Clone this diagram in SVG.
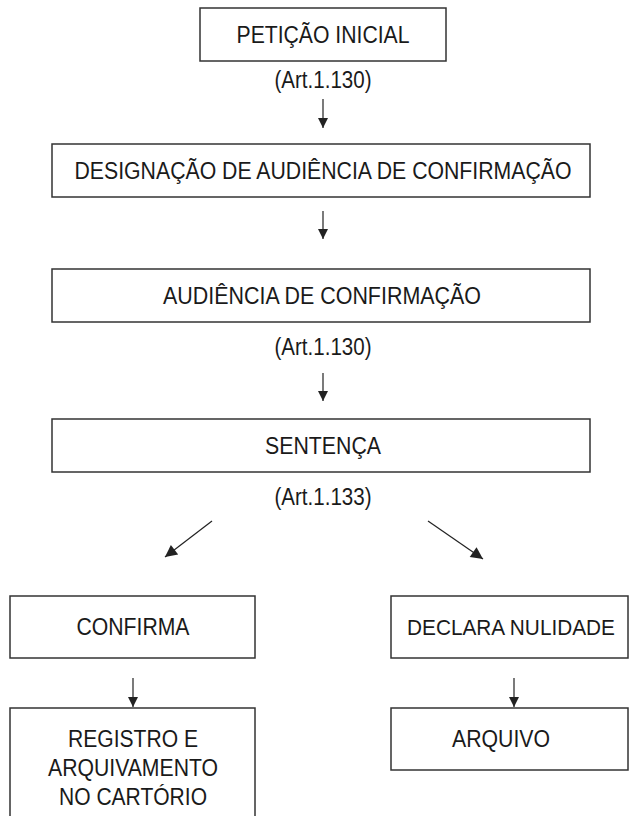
<svg xmlns="http://www.w3.org/2000/svg" width="629" height="816" viewBox="0 0 629 816">
<style>
.box{fill:#fff;stroke:#333;stroke-width:1.5}
.t{font-family:"Liberation Sans",Arial,sans-serif;font-size:23.5px;fill:#1a1a1a;text-anchor:middle}
.c{stroke:#222;stroke-width:1.2;fill:none}
</style>
<defs>
<marker id="ah" viewBox="0 0 10 10" refX="10" refY="5" markerWidth="11" markerHeight="10" markerUnits="userSpaceOnUse" orient="auto">
<path d="M0,0 L10,5 L0,10 Z" fill="#222"/>
</marker>
<marker id="ahd" viewBox="0 0 10 10" refX="10" refY="5" markerWidth="14" markerHeight="12" markerUnits="userSpaceOnUse" orient="auto">
<path d="M0,0 L10,5 L0,10 Z" fill="#222"/>
</marker>
</defs>
<rect width="629" height="816" fill="#fff"/>
<g id="connectors">
<line class="c" x1="323" y1="99" x2="323" y2="128" marker-end="url(#ah)"/>
<line class="c" x1="323" y1="211" x2="323" y2="239" marker-end="url(#ah)"/>
<line class="c" x1="323" y1="373" x2="323" y2="401" marker-end="url(#ah)"/>
<line class="c" x1="212" y1="521" x2="165" y2="557" marker-end="url(#ahd)"/>
<line class="c" x1="428" y1="521" x2="483" y2="559" marker-end="url(#ahd)"/>
<line class="c" x1="133" y1="678" x2="133" y2="707" marker-end="url(#ah)"/>
<line class="c" x1="514" y1="678" x2="514" y2="707" marker-end="url(#ah)"/>
</g>
<g id="peticao">
<rect class="box" x="200" y="8" width="246" height="53"/>
<text class="t" x="323" y="43" textLength="173" lengthAdjust="spacingAndGlyphs">PETIÇÃO INICIAL</text>
</g>
<g id="art1">
<text class="t" x="323" y="88" textLength="97" lengthAdjust="spacingAndGlyphs">(Art.1.130)</text>
</g>
<g id="designacao">
<rect class="box" x="52" y="144" width="538" height="53"/>
<text class="t" x="323" y="179" textLength="497" lengthAdjust="spacingAndGlyphs">DESIGNAÇÃO DE AUDIÊNCIA DE CONFIRMAÇÃO</text>
</g>
<g id="audiencia">
<rect class="box" x="52" y="269" width="538" height="53"/>
<text class="t" x="322" y="304" textLength="318" lengthAdjust="spacingAndGlyphs">AUDIÊNCIA DE CONFIRMAÇÃO</text>
</g>
<g id="art2">
<text class="t" x="323" y="355" textLength="97" lengthAdjust="spacingAndGlyphs">(Art.1.130)</text>
</g>
<g id="sentenca">
<rect class="box" x="52" y="419" width="538" height="53"/>
<text class="t" x="323" y="454" textLength="116" lengthAdjust="spacingAndGlyphs">SENTENÇA</text>
</g>
<g id="art3">
<text class="t" x="323" y="505" textLength="97" lengthAdjust="spacingAndGlyphs">(Art.1.133)</text>
</g>
<g id="confirma">
<rect class="box" x="10" y="596" width="245" height="62"/>
<text class="t" x="133" y="635" textLength="113" lengthAdjust="spacingAndGlyphs">CONFIRMA</text>
</g>
<g id="declara">
<rect class="box" x="391" y="596" width="237" height="62"/>
<text class="t" x="511" y="635" style="font-size:22px" textLength="208" lengthAdjust="spacingAndGlyphs">DECLARA NULIDADE</text>
</g>
<g id="registro">
<rect class="box" x="10" y="708" width="245" height="130"/>
<text class="t" x="133" y="747" textLength="130" lengthAdjust="spacingAndGlyphs">REGISTRO E</text>
<text class="t" x="133" y="776" textLength="170" lengthAdjust="spacingAndGlyphs">ARQUIVAMENTO</text>
<text class="t" x="133" y="805" textLength="148" lengthAdjust="spacingAndGlyphs">NO CARTÓRIO</text>
</g>
<g id="arquivo">
<rect class="box" x="391" y="708" width="237" height="62"/>
<text class="t" x="501" y="747" textLength="98" lengthAdjust="spacingAndGlyphs">ARQUIVO</text>
</g>
</svg>
